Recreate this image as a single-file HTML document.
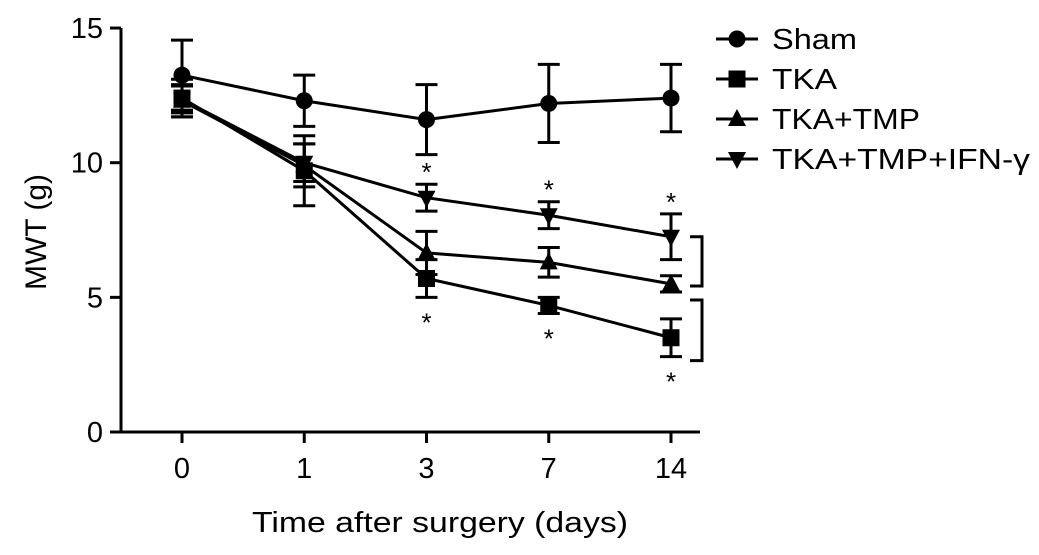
<!DOCTYPE html>
<html><head><meta charset="utf-8"><style>
body{margin:0;background:#fff;}
svg{display:block;font-family:"Liberation Sans",Arial,sans-serif;}
</style></head><body>
<svg id="chart" width="1039" height="555" viewBox="0 0 1039 555" xmlns="http://www.w3.org/2000/svg"></svg>
<script>
const categories=["0","1","3","7","14"];
const yTicks=[0,5,10,15];
const seriesNames=["Sham","TKA","TKA+TMP","TKA+TMP+IFN-γ"];
const shamVals=[13.25,12.3,11.6,12.2,12.4];
const shamErr=[1.3,0.95,1.3,1.45,1.25];
const tkaVals=[12.4,9.7,5.7,4.7,3.5];
const tkaErr=[0.7,1.3,0.7,0.3,0.7];
const tmpVals=[12.3,9.9,6.65,6.3,5.5];
const tmpErr=[0.6,0.8,0.8,0.55,0.3];
const ifnVals=[12.35,10.0,8.7,8.05,7.25];
const ifnErr=[0.5,0.7,0.5,0.5,0.85];
const starsAbove=[2,3,4];
const starsBelow=[2,3,4];

const svg=document.getElementById('chart');
const NS="http://www.w3.org/2000/svg";
const xPos=[182,304,426,548,671];
function X(i){return xPos[0]+(xPos[4]-xPos[0])*i/4;}
function Y(v){return 432-v*26.93;}
function mk(tag,attrs,parent){const e=document.createElementNS(NS,tag);for(const k in attrs)e.setAttribute(k,attrs[k]);(parent||svg).appendChild(e);return e;}

const ax=mk('g',{});


mk('line',{x1:121,y1:Y(15),x2:121,y2:433,stroke:'#000','stroke-width':3},ax);
mk('line',{x1:120,y1:432,x2:700,y2:432,stroke:'#000','stroke-width':3},ax);
yTicks.forEach(t=>{
  mk('line',{x1:110,y1:Y(t),x2:121,y2:Y(t),stroke:'#000','stroke-width':3},ax);
  const tx=mk('text',{x:103,y:Y(t)+10,'font-size':29,'text-anchor':'end'},ax);tx.textContent=t;
  
  
});
categories.forEach((c,i)=>{
  mk('line',{x1:X(i),y1:432,x2:X(i),y2:443,stroke:'#000','stroke-width':3},ax);
  const tx=mk('text',{x:X(i),y:478,'font-size':29,'text-anchor':'middle'},ax);tx.textContent=c;
  
  
});
const yl=mk('text',{x:0,y:0,'font-size':30,'text-anchor':'middle',transform:'translate(46,232) rotate(-90)'});
yl.textContent='MWT (g)';


const xl=mk('text',{x:252,y:532,'font-size':29,textLength:376,lengthAdjust:'spacingAndGlyphs'});
xl.textContent='Time after surgery (days)';



function marker(type,x,y,g){
  if(type===0)mk('circle',{cx:x,cy:y,r:8.5,fill:'#000'},g);
  else if(type===1)mk('rect',{x:x-8.5,y:y-8.5,width:17,height:17,fill:'#000'},g);
  else if(type===2)mk('polygon',{points:`${x},${y-10} ${x-9},${y+7} ${x+9},${y+7}`,fill:'#000'},g);
  else mk('polygon',{points:`${x},${y+10} ${x-9},${y-7} ${x+9},${y-7}`,fill:'#000'},g);
}
const all=[[shamVals,shamErr],[tkaVals,tkaErr],[tmpVals,tmpErr],[ifnVals,ifnErr]];
all.forEach(([v,e],s)=>{
  const g=mk('g',{});
  
  
  mk('polyline',{points:v.map((d,i)=>X(i)+','+Y(d)).join(' '),fill:'none',stroke:'#000','stroke-width':3},g);
  v.forEach((d,i)=>{
    const x=X(i),t=Y(d+e[i]),b=Y(d-e[i]);
    mk('line',{x1:x,y1:t,x2:x,y2:b,stroke:'#000','stroke-width':3},g);
    mk('line',{x1:x-11,y1:t,x2:x+11,y2:t,stroke:'#000','stroke-width':3},g);
    mk('line',{x1:x-11,y1:b,x2:x+11,y2:b,stroke:'#000','stroke-width':3},g);
    marker(s,x,Y(d),g);
  });
});
starsAbove.forEach(i=>{
  const t=mk('text',{x:X(i),y:Y(ifnVals[i]+ifnErr[i])-3,'font-size':26,'text-anchor':'middle'});t.textContent='*';
  
  
});
starsBelow.forEach(i=>{
  const t=mk('text',{x:X(i),y:Y(tkaVals[i]-tkaErr[i])+34,'font-size':26,'text-anchor':'middle'});t.textContent='*';
  
  
});
function bracket(y1,y2){
  const p=mk('polyline',{points:`690,${y1} 702,${y1} 702,${y2} 690,${y2}`,fill:'none',stroke:'#000','stroke-width':3});
  
  
}
bracket(Y(ifnVals[4]),Y(tmpVals[4]-tmpErr[4])-6);
bracket(Y(tmpVals[4]-tmpErr[4])+8,Y(tkaVals[4]-tkaErr[4])+4);
const legW=[85,65,148,258];
seriesNames.forEach((n,s)=>{
  const g=mk('g',{});
  
  
  const y=39+s*40;
  mk('line',{x1:716,y1:y,x2:758,y2:y,stroke:'#000','stroke-width':3},g);
  marker(s,737,y,g);
  const t=mk('text',{x:772,y:y+10,'font-size':29,textLength:legW[s],lengthAdjust:'spacingAndGlyphs'},g);t.textContent=n;
});
</script>
</body></html>
